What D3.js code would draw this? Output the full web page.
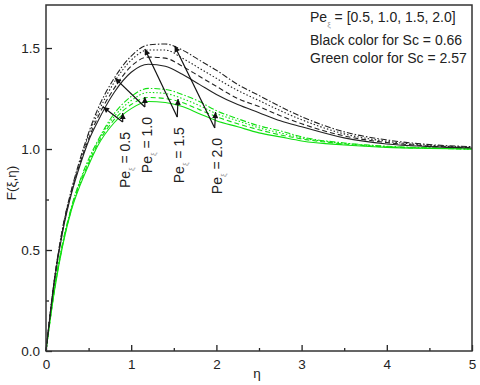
<!DOCTYPE html>
<html>
<head>
<meta charset="utf-8">
<script src="https://cdn.jsdelivr.net/npm/d3@7"></script>
<style>
  body { margin: 0; background: #fff; }
  text { font-family: "Liberation Sans", Arial, sans-serif; fill: #222; }
</style>
</head>
<body>
<div id="chart"></div>
<script>
// eta grid shared by every curve
var eta = [0, 0.1, 0.2, 0.3, 0.4, 0.5, 0.6, 0.8, 1.0, 1.2, 1.4, 1.6, 1.8, 2.0, 2.25, 2.5, 2.75, 3.0, 3.5, 4.0, 4.5, 5.0];

// Sc = 0.66 (black)
var black05 = [0, 0.35, 0.60, 0.78, 0.92, 1.04, 1.13, 1.28, 1.38, 1.42, 1.41, 1.37, 1.32, 1.27, 1.22, 1.18, 1.14, 1.11, 1.055, 1.025, 1.012, 1.005];
var black10 = [0, 0.355, 0.61, 0.79, 0.93, 1.05, 1.15, 1.30, 1.41, 1.455, 1.45, 1.41, 1.36, 1.31, 1.25, 1.21, 1.165, 1.125, 1.065, 1.032, 1.015, 1.007];
var black15 = [0, 0.36, 0.615, 0.795, 0.94, 1.07, 1.17, 1.33, 1.44, 1.49, 1.49, 1.45, 1.40, 1.35, 1.29, 1.24, 1.19, 1.145, 1.075, 1.038, 1.018, 1.009];
var black20 = [0, 0.36, 0.62, 0.80, 0.95, 1.08, 1.19, 1.35, 1.46, 1.515, 1.52, 1.49, 1.44, 1.39, 1.32, 1.265, 1.21, 1.16, 1.085, 1.045, 1.022, 1.012];

// Sc = 2.57 (green)
var green05 = [0, 0.30, 0.53, 0.70, 0.82, 0.92, 1.01, 1.13, 1.20, 1.235, 1.23, 1.21, 1.175, 1.14, 1.11, 1.08, 1.06, 1.04, 1.02, 1.008, 1.003, 1.0];
var green10 = [0, 0.305, 0.535, 0.705, 0.83, 0.93, 1.02, 1.145, 1.22, 1.255, 1.25, 1.23, 1.195, 1.16, 1.125, 1.095, 1.07, 1.05, 1.025, 1.01, 1.004, 1.0];
var green15 = [0, 0.31, 0.54, 0.71, 0.84, 0.94, 1.03, 1.16, 1.24, 1.28, 1.275, 1.25, 1.215, 1.175, 1.14, 1.105, 1.08, 1.055, 1.028, 1.012, 1.005, 1.0];
var green20 = [0, 0.315, 0.545, 0.715, 0.845, 0.95, 1.035, 1.175, 1.26, 1.30, 1.295, 1.27, 1.235, 1.19, 1.15, 1.115, 1.09, 1.06, 1.03, 1.014, 1.006, 1.0];

var peValues = ["0.5", "1.0", "1.5", "2.0"];
var xTicks = [0, 1, 2, 3, 4, 5];
var xMinor = [0.5, 1.5, 2.5, 3.5, 4.5];
var yTicks = [0, 0.5, 1.0, 1.5];
var yMinor = [0.25, 0.75, 1.25];

// arrow annotations in data units: [base, tip on black curve, tip on green curve]
var arrowBase  = [[0.90, 1.134], [1.16, 1.208], [1.54, 1.158], [1.98, 1.104]];
var arrowBlack = [[0.67, 1.208], [0.81, 1.351], [1.16, 1.495], [1.51, 1.51]];
var arrowGreen = [[0.90, 1.178], [1.16, 1.257], [1.55, 1.248], [1.99, 1.183]];

var width = 480, height = 385;
var plotLeft = 46, plotRight = 472, plotTop = 5, plotBottom = 351;

var svg = d3.select("#chart")
  .append("svg")
    .attr("width", width)
    .attr("height", height);

var x = d3.scaleLinear().domain([0, 5]).range([plotLeft, plotRight]);
var y = d3.scaleLinear().domain([0, 1.713]).range([plotBottom, plotTop]);

var defs = svg.append("defs");
defs.append("marker")
    .attr("id", "head")
    .attr("viewBox", "0 0 10 10")
    .attr("refX", 10).attr("refY", 5)
    .attr("markerWidth", 10).attr("markerHeight", 6)
    .attr("markerUnits", "userSpaceOnUse")
    .attr("orient", "auto")
  .append("path")
    .attr("d", "M0,0 L10,5 L0,10 z")
    .attr("fill", "#111");

// curves
var dashes = [null, "5,3", "1.5,2", "6,2,1.5,2"];
var series = [
  {vals: green05, color: "#10e010", dash: dashes[0]},
  {vals: green10, color: "#10e010", dash: dashes[1]},
  {vals: green15, color: "#10e010", dash: dashes[2]},
  {vals: green20, color: "#10e010", dash: dashes[3]},
  {vals: black05, color: "#222", dash: dashes[0]},
  {vals: black10, color: "#222", dash: dashes[1]},
  {vals: black15, color: "#222", dash: dashes[2]},
  {vals: black20, color: "#222", dash: dashes[3]}
];

var line = d3.line()
  .x((d, i) => x(eta[i]))
  .y(d => y(d))
  .curve(d3.curveMonotoneX);

svg.append("g")
  .selectAll("path")
  .data(series)
  .enter()
  .append("path")
    .attr("d", s => line(s.vals))
    .attr("fill", "none")
    .attr("stroke", s => s.color)
    .attr("stroke-width", 1.1)
    .attr("stroke-dasharray", s => s.dash);

// axes, ticks pointing inward
svg.append("g")
  .attr("transform", `translate(0, ${plotBottom})`)
  .call(d3.axisBottom(x).tickValues(xTicks).tickSize(-6).tickPadding(8).tickFormat(d3.format("d")));
svg.append("g")
  .attr("transform", `translate(0, ${plotBottom})`)
  .call(d3.axisBottom(x).tickValues(xMinor).tickSize(-3).tickFormat(""));

svg.append("g")
  .attr("transform", `translate(${plotLeft}, 0)`)
  .call(d3.axisLeft(y).tickValues(yTicks).tickSize(-6).tickPadding(6).tickFormat(d3.format(".1f")));
svg.append("g")
  .attr("transform", `translate(${plotLeft}, 0)`)
  .call(d3.axisLeft(y).tickValues(yMinor).tickSize(-3).tickFormat(""));

svg.selectAll(".domain").remove();
svg.selectAll(".tick line").attr("stroke", "#222").attr("stroke-width", 1.3);
svg.selectAll(".tick text").attr("font-size", "13.5px").attr("fill", "#222")
  .attr("font-family", "Liberation Sans, Arial, sans-serif");

// frame
svg.append("rect")
  .attr("x", plotLeft).attr("y", plotTop)
  .attr("width", plotRight - plotLeft).attr("height", plotBottom - plotTop)
  .attr("fill", "none")
  .attr("stroke", "#333")
  .attr("stroke-width", 1.5);

// axis titles
svg.append("text")
  .attr("transform", `translate(16, ${(plotTop + plotBottom) / 2 + 5}) rotate(-90)`)
  .attr("text-anchor", "middle")
  .attr("font-size", "13.5px")
  .text("F(ξ,η)");

svg.append("text")
  .attr("x", (plotLeft + plotRight) / 2 - 2)
  .attr("y", 378)
  .attr("text-anchor", "middle")
  .attr("font-size", "13.5px")
  .text("η");

// arrows
var arrows = svg.append("g");
peValues.forEach(function(pe, i) {
  var b = arrowBase[i];
  [arrowBlack[i], arrowGreen[i]].forEach(function(t) {
    arrows.append("line")
      .attr("x1", x(b[0])).attr("y1", y(b[1]))
      .attr("x2", x(t[0])).attr("y2", y(t[1]))
      .attr("stroke", "#111")
      .attr("stroke-width", 1.2)
      .attr("marker-end", "url(#head)");
  });

  var lab = arrows.append("text")
    .attr("transform", `translate(${x(b[0]) + 7}, ${y(b[1]) + 10}) rotate(-90)`)
    .attr("text-anchor", "end")
    .attr("font-size", "14px");
  lab.append("tspan").text("Pe");
  lab.append("tspan").attr("font-size", "8px").attr("dy", 4).attr("fill", "#999").text("ξ");
  lab.append("tspan").attr("dy", -4).text(" = " + pe);
});

// legend text
var legend = svg.append("g").attr("font-size", "14px");
var l1 = legend.append("text").attr("x", 310).attr("y", 22);
l1.append("tspan").text("Pe");
l1.append("tspan").attr("font-size", "8px").attr("dy", 5).attr("fill", "#999").text("ξ");
l1.append("tspan").attr("dy", -5).text(" = [" + peValues.join(", ") + "]");
legend.append("text").attr("x", 310).attr("y", 45).text("Black color for Sc = 0.66");
legend.append("text").attr("x", 310).attr("y", 63).text("Green color for Sc = 2.57");
</script>
</body>
</html>
